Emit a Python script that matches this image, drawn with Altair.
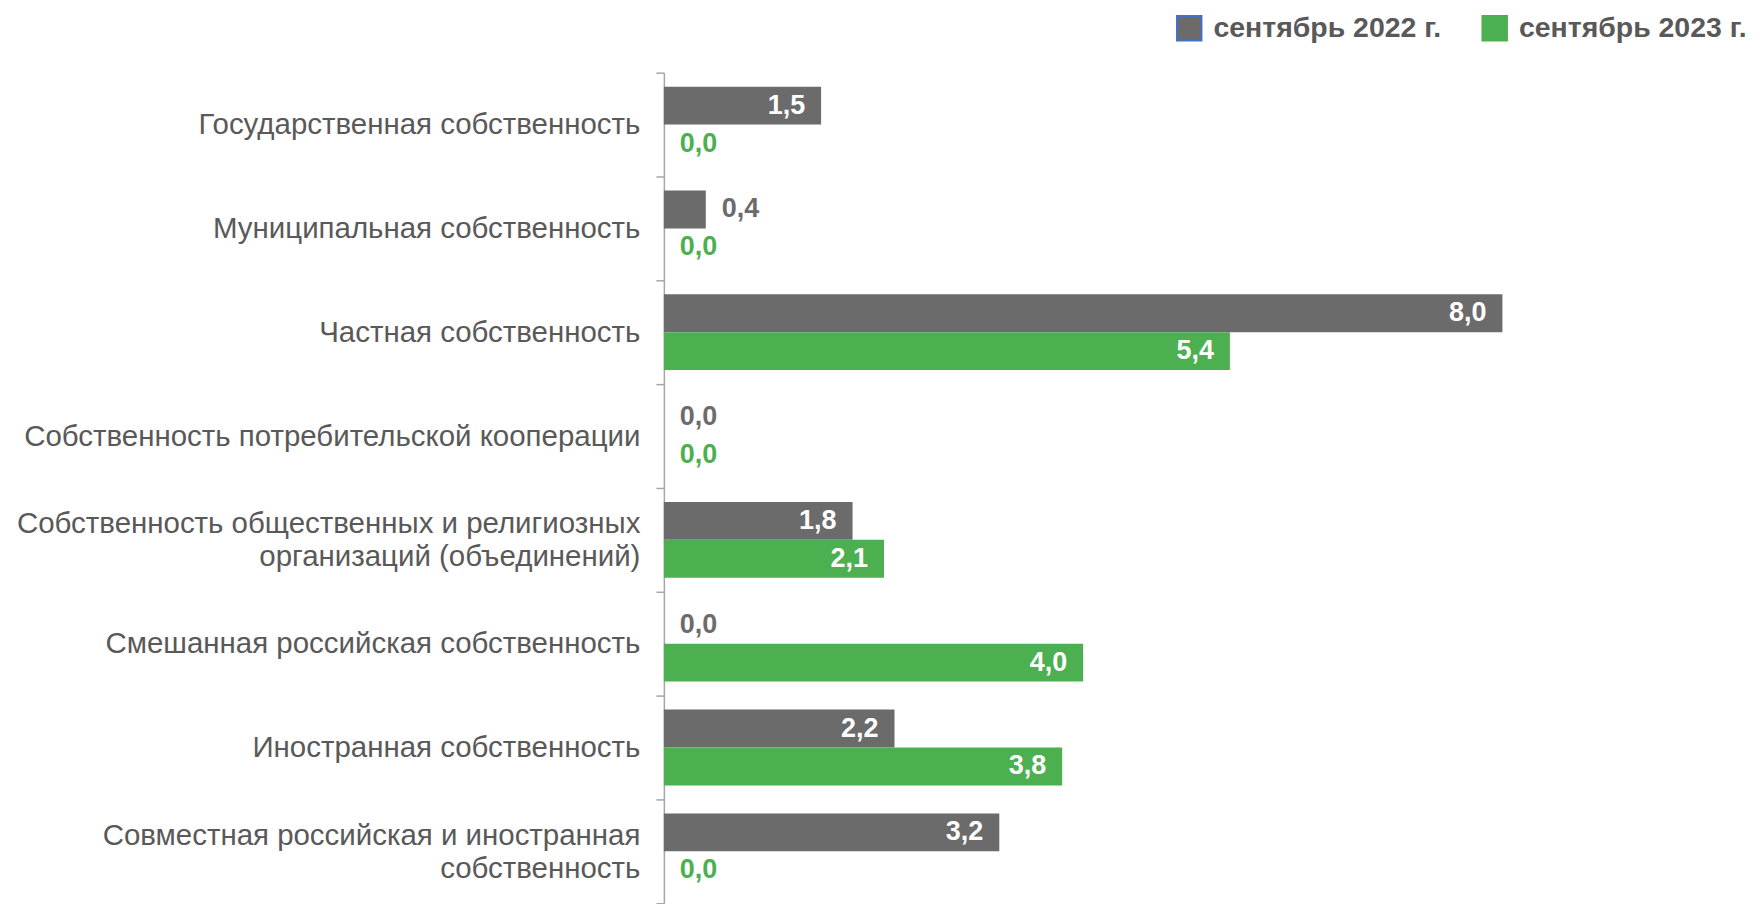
import altair as alt
import pandas as pd

categories = [
    "Государственная собственность",
    "Муниципальная собственность",
    "Частная собственность",
    "Собственность потребительской кооперации",
    "Собственность общественных и религиозных|организаций (объединений)",
    "Смешанная российская собственность",
    "Иностранная собственность",
    "Совместная российская и иностранная|собственность",
]
series = ["сентябрь 2022 г.", "сентябрь 2023 г."]
values_2022 = [1.5, 0.4, 8.0, 0.0, 1.8, 0.0, 2.2, 3.2]
values_2023 = [0.0, 0.0, 5.4, 0.0, 2.1, 4.0, 3.8, 0.0]

GRAY = "#6b6b6b"
GREEN = "#4caf50"
BLUE = "#4472c4"
TEXT = "#595959"
FONT = "Liberation Sans"

rows = []
for c, a, b in zip(categories, values_2022, values_2023):
    for s, v in zip(series, (a, b)):
        rows.append({"cat": c, "series": s, "value": v,
                     "label": f"{v:.1f}".replace(".", ","),
                     "inside": v >= 1.0})
df = pd.DataFrame(rows)

y_enc = alt.Y("cat:N", sort=categories, title=None,
              scale=alt.Scale(paddingInner=0, paddingOuter=0),
              axis=alt.Axis(labelExpr="split(datum.label, '|')",
                            labelFont=FONT, labelFontSize=29.5, labelColor=TEXT,
                            labelLineHeight=33, labelPadding=16, labelLimit=1000,
                            labelOffset={"condition": {"test": "indexof(datum.label, '|') >= 0",
                                                       "value": -16},
                                         "value": 0},
                            tickBand="extent", tickSize=8, tickColor="#a6a6a6",
                            domain=True, domainColor="#a6a6a6", tickWidth=1.5,
                            domainWidth=1.5))
yoff = alt.YOffset("series:N", sort=series,
                   scale=alt.Scale(paddingInner=0, paddingOuter=0.37))
x_enc = alt.X("value:Q", scale=alt.Scale(domain=[0, 9]), axis=None, title=None)
color_scale = alt.Scale(domain=series, range=[GRAY, GREEN])
stroke_scale = alt.Scale(domain=series, range=[BLUE, GREEN])

legend = alt.Legend(title=None, orient="none", direction="horizontal",
                    legendX=512, legendY=-59,
                    symbolType="square", symbolSize=600,
                    symbolOpacity=1, symbolStrokeWidth=2,
                    labelFont=FONT, labelFontSize=28.5,
                    labelFontWeight="bold", labelColor=TEXT,
                    labelOffset=10, columnPadding=37, labelLimit=400)

base = alt.Chart(df)

bars = base.mark_bar(strokeWidth=0).encode(
    y=y_enc, yOffset=yoff, x=x_enc,
    color=alt.Color("series:N", scale=color_scale, sort=series, legend=legend),
    stroke=alt.Stroke("series:N", scale=stroke_scale, sort=series, legend=legend),
)

inside = base.transform_filter("datum.inside").mark_text(
    align="right", baseline="middle", dx=-16, font=FONT, fontSize=27,
    fontWeight="bold", color="white"
).encode(y=y_enc, yOffset=yoff, x=x_enc, text="label:N")

outside = base.transform_filter("!datum.inside").mark_text(
    align="left", baseline="middle", dx=16, font=FONT, fontSize=27,
    fontWeight="bold"
).encode(y=y_enc, yOffset=yoff, x=x_enc, text="label:N",
         color=alt.Color("series:N", scale=color_scale, legend=None))

chart = alt.layer(bars, inside, outside).properties(
    width=945, height=832, background="white",
    padding={"left": 8, "top": 5, "right": 5, "bottom": 5}
).configure_view(stroke=None)

chart.save("out.html", embed_options={"renderer": "svg", "actions": False})
